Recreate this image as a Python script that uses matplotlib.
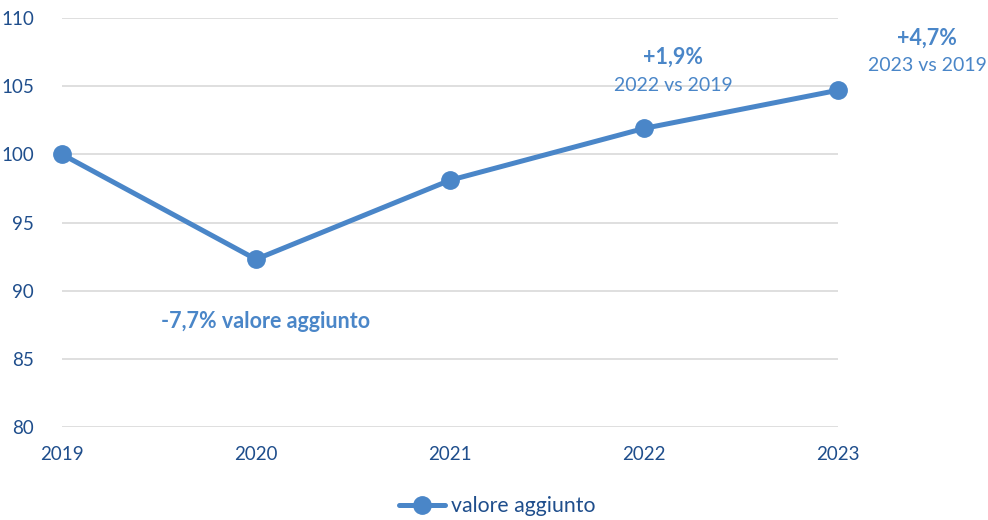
import matplotlib
matplotlib.use("Agg")
import matplotlib.pyplot as plt

years = [2019, 2020, 2021, 2022, 2023]
values = [100, 92.3, 98.1, 101.9, 104.7]
yticks = [80, 85, 90, 95, 100, 105, 110]
series_label = "valore aggiunto"

line_color = "#4A86C8"
tick_color = "#1F4E8C"

plt.rcParams['font.family'] = ['Lato', 'DejaVu Sans']

fig = plt.figure(figsize=(9.88, 5.2), dpi=100)
ax = fig.add_axes([62/988, 1 - 427/520, (838-62)/988, (427-18)/520])

ax.plot(years, values, color=line_color, lw=3.6, marker='o', ms=12.5,
        label=series_label, solid_capstyle='round', clip_on=False, zorder=3)

ax.set_xlim(2019, 2023)
ax.set_ylim(80, 110)
ax.set_yticks(yticks)
ax.set_xticks(years)
ax.set_xticklabels([str(y) for y in years])
ax.grid(axis='y', color='#D9D9D9', lw=1.2)
ax.set_axisbelow(True)
for s in ax.spines.values():
    s.set_visible(False)
ax.tick_params(length=0, labelsize=13.5, colors=tick_color, pad=8)
ax.tick_params(axis='y', pad=20)
ax.tick_params(axis='x', pad=14)

fs = 14
fsb = 15.5
ax.text(2022.15, 107.14, "+1,9%", ha='center', va='center', fontsize=fsb,
        fontweight='bold', color=line_color)
ax.text(2022.15, 105.08, "2022 vs 2019", ha='center', va='center', fontsize=fs,
        color=line_color)
ax.text(2023.46, 108.53, "+4,7%", ha='center', va='center', fontsize=fsb,
        fontweight='bold', color=line_color, clip_on=False)
ax.text(2023.46, 106.55, "2023 vs 2019", ha='center', va='center', fontsize=fs,
        color=line_color, clip_on=False)
ax.text(2020.05, 87.77, "-7,7% valore aggiunto", ha='center', va='center',
        fontsize=fsb, fontweight='bold', color=line_color)

leg = fig.legend(loc='center', bbox_to_anchor=(497/988, 1 - 506/520), frameon=False,
                 fontsize=15.3, handlelength=2.2, handletextpad=0.25)
for t in leg.get_texts():
    t.set_color(tick_color)

fig.savefig("out.png", dpi=100)
